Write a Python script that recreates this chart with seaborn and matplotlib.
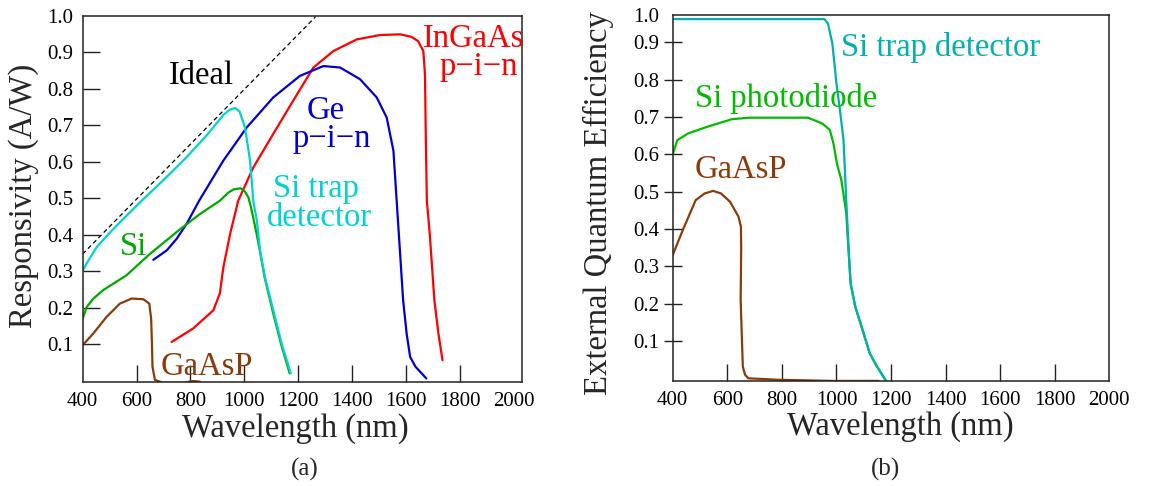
import matplotlib
matplotlib.use("Agg")
import matplotlib.pyplot as plt
import seaborn as sns
import pandas as pd

# ---------------- data: panel (a) responsivity (A/W) ----------------
ideal_lam = [400, 1264]
ideal_val = [0.347, 0.997]

si_trap_lam = [400, 421, 452, 500, 560, 619, 700, 780, 860, 922, 945, 965, 982, 1002, 1021, 1033,
               1046, 1058, 1076, 1107, 1138, 1172]
si_trap_val = [0.302, 0.329, 0.366, 0.405, 0.45, 0.493, 0.55, 0.608, 0.672, 0.728, 0.742, 0.747,
               0.738, 0.694, 0.603, 0.493, 0.439, 0.357, 0.284, 0.193, 0.102, 0.02]

si_lam = [400, 415, 440, 476, 563, 649, 755, 834, 909, 940, 960, 985, 1000, 1015, 1026, 1046,
          1060, 1076, 1105, 1136, 1168]
si_val = [0.17, 0.202, 0.225, 0.248, 0.289, 0.347, 0.411, 0.456, 0.493, 0.515, 0.524, 0.527,
          0.52, 0.502, 0.47, 0.40, 0.345, 0.28, 0.19, 0.10, 0.02]

ge_lam = [662, 712, 749, 786, 832, 922, 1009, 1107, 1206, 1293, 1355, 1429, 1491, 1528, 1553,
          1565, 1575, 1589, 1602, 1615, 1635, 1675]
ge_val = [0.331, 0.357, 0.389, 0.43, 0.493, 0.603, 0.694, 0.776, 0.835, 0.862, 0.858, 0.826,
          0.776, 0.721, 0.63, 0.493, 0.38, 0.22, 0.129, 0.065, 0.038, 0.006]

ingaas_lam = [730, 810, 885, 909, 922, 947, 977, 1033, 1107, 1181, 1256, 1330, 1417, 1503, 1578,
              1620, 1645, 1664, 1670, 1673, 1677, 1688, 1705, 1720, 1735]
ingaas_val = [0.106, 0.143, 0.193, 0.239, 0.311, 0.402, 0.493, 0.584, 0.676, 0.767, 0.858, 0.903,
              0.935, 0.947, 0.949, 0.942, 0.93, 0.903, 0.84, 0.676, 0.493, 0.40, 0.22, 0.129, 0.056]

gaasp_a_lam = [400, 439, 489, 538, 582, 625, 647, 654, 657, 659, 668, 699, 773, 810, 835]
gaasp_a_val = [0.097, 0.129, 0.175, 0.211, 0.225, 0.223, 0.211, 0.17, 0.10, 0.038, 0.002,
               -0.006, -0.006, -0.001, -0.003]

# ---------------- data: panel (b) external quantum efficiency ----------------
trap_b_lam = [400, 956, 969, 985, 1000, 1013, 1026, 1036, 1045, 1052, 1069, 1096, 1122, 1149, 1182]
trap_b_val = [0.962, 0.962, 0.95, 0.897, 0.79, 0.718, 0.638, 0.477, 0.343, 0.254, 0.192, 0.129,
              0.067, 0.031, -0.007]

sipd_b_lam = [400, 417, 457, 524, 617, 683, 896, 949, 976, 989, 1002, 1018, 1036, 1045, 1052,
              1069, 1096, 1122, 1149, 1182]
sipd_b_val = [0.6, 0.638, 0.656, 0.673, 0.694, 0.698, 0.698, 0.682, 0.665, 0.629, 0.575, 0.531,
              0.442, 0.335, 0.254, 0.192, 0.129, 0.067, 0.031, -0.007]

gaasp_b_lam = [400, 437, 484, 517, 548, 577, 610, 641, 650, 651, 649, 653, 657, 665, 677, 790,
               989, 1155]
gaasp_b_val = [0.33, 0.397, 0.477, 0.495, 0.502, 0.495, 0.473, 0.433, 0.406, 0.35, 0.21, 0.12,
               0.031, 0.01, 0.0, -0.004, -0.007, -0.007]

xticks = [400, 600, 800, 1000, 1200, 1400, 1600, 1800, 2000]
yticks_a = [0.1, 0.2, 0.3, 0.4, 0.5, 0.6, 0.7, 0.8, 0.9, 1.0]
yticks_b = [0.1, 0.2, 0.3, 0.4, 0.5, 0.6, 0.7, 0.8, 0.9]

C_CYAN = "#00d2d2"
C_TEAL = "#00b0b0"
C_GREEN_A = "#00a800"
C_GREEN_B = "#00bb00"
C_BLUE = "#0000d2"
C_RED = "#ff0000"
C_BROWN = "#8b3a0a"

sns.set_style("ticks")
plt.rcParams["font.family"] = ["Liberation Serif", "DejaVu Serif"]
plt.rcParams["mathtext.fontset"] = "stix"

W, H = 1149, 486
fig = plt.figure(figsize=(W / 100, H / 100), dpi=100)

def px_axes(left, top, right, bottom):
    return fig.add_axes([left / W, 1 - bottom / H, (right - left) / W, (bottom - top) / H])

axa = px_axes(82.7, 15.7, 521.7, 382.3)
axb = px_axes(672.7, 15.0, 1109.3, 381.3)

def long_df(series):
    rows = []
    for name, lam, val in series:
        for i, (l, v) in enumerate(zip(lam, val)):
            rows.append({"series": name, "lam": l, "val": v, "order": i})
    return pd.DataFrame(rows)

lw = 1.6
# panel (a)
dfa = long_df([
    ("GaAsP", gaasp_a_lam, gaasp_a_val),
    ("InGaAs", ingaas_lam, ingaas_val),
    ("Ge", ge_lam, ge_val),
    ("Si", si_lam, si_val),
    ("Si trap", si_trap_lam, si_trap_val),
])
pal_a = {"GaAsP": C_BROWN, "InGaAs": C_RED, "Ge": C_BLUE, "Si": C_GREEN_A, "Si trap": C_CYAN}
sns.lineplot(data=dfa, x="lam", y="val", hue="series", palette=pal_a, sort=False,
             estimator=None, legend=False, ax=axa, linewidth=lw)
dfi = pd.DataFrame({"lam": ideal_lam, "val": ideal_val})
sns.lineplot(data=dfi, x="lam", y="val", color="black", sort=False, estimator=None,
             legend=False, ax=axa, linewidth=0.9, linestyle=(0, (3.5, 2.5)))

# panel (b)
dfb = long_df([
    ("GaAsP", gaasp_b_lam, gaasp_b_val),
    ("Si photodiode", sipd_b_lam, sipd_b_val),
    ("Si trap detector", trap_b_lam, trap_b_val),
])
pal_b = {"GaAsP": C_BROWN, "Si photodiode": C_GREEN_B, "Si trap detector": C_TEAL}
sns.lineplot(data=dfb, x="lam", y="val", hue="series", palette=pal_b, sort=False,
             estimator=None, legend=False, ax=axb, linewidth=lw)

TICK_FS = 15
LAB_FS = 23.5
ANN_FS = 23.5

# axes (a)
axa.set_xlim(400, 2029)
axa.set_ylim(-0.0046, 0.997)
axa.set_xticks(xticks)
axa.set_xticklabels([str(t) for t in xticks])
axa.set_yticks(yticks_a)
axa.set_yticklabels([f"{t:.1f}" for t in yticks_a])
axa.tick_params(axis="both", direction="in", length=12, width=1.0, labelsize=TICK_FS, pad=7,
                colors="#222222", labelcolor="black")
axa.xaxis.get_major_ticks()[-1].tick1line.set_visible(False)
axa.yaxis.get_major_ticks()[-1].tick1line.set_visible(False)
axa.set_xlabel("Wavelength (nm)", fontsize=LAB_FS, va="baseline")
axa.xaxis.set_label_coords(0.4836, -0.148)
axa.set_ylabel("Responsivity (A/W)", fontsize=LAB_FS, va="baseline", rotation_mode="anchor")
axa.yaxis.set_label_coords(-0.1155, 0.508)

# axes (b)
axb.set_xlim(400, 2000)
axb.set_ylim(-0.008, 0.973)
axb.set_xticks(xticks)
axb.set_xticklabels([str(t) for t in xticks])
axb.set_yticks(yticks_b + [0.973])
axb.set_yticklabels([f"{t:.1f}" for t in yticks_b] + ["1.0"])
axb.tick_params(axis="x", direction="in", length=12, width=1.0, labelsize=TICK_FS, pad=7,
                colors="#222222", labelcolor="black")
axb.tick_params(axis="y", direction="inout", length=13, width=1.0, labelsize=TICK_FS, pad=3,
                colors="#222222", labelcolor="black")
axb.yaxis.get_major_ticks()[-1].tick1line.set_visible(False)
axb.xaxis.get_major_ticks()[0].tick1line.set_visible(False)
axb.xaxis.get_major_ticks()[-1].tick1line.set_visible(False)
axb.set_xlabel("Wavelength (nm)", fontsize=LAB_FS, va="baseline")
axb.xaxis.set_label_coords(0.5206, -0.1466)
axb.set_ylabel("External Quantum Efficiency", fontsize=LAB_FS, va="baseline",
               rotation_mode="anchor")
axb.yaxis.set_label_coords(-0.150, 0.487)

for ax in (axa, axb):
    for s in ax.spines.values():
        s.set_visible(True)
        s.set_linewidth(1.1)
        s.set_color("#222222")
    ax.xaxis.get_major_ticks()[0].tick1line.set_visible(False)
    ax.yaxis.get_major_ticks()[0].tick1line.set_visible(True)

# annotations (a)
def ann(ax, x, y, s, c, ha="center"):
    ax.text(x, y, s, color=c, fontsize=ANN_FS, ha=ha, va="baseline", clip_on=False)

PIN = "p\u2212i\u2212n"
ann(axa, 839, 0.812, "Ideal", "black")
ann(axa, 1852, 0.915, "InGaAs", C_RED)
ann(axa, 1870, 0.838, PIN, C_RED)
ann(axa, 1303, 0.717, "Ge", C_BLUE)
ann(axa, 1325, 0.639, PIN, C_BLUE)
ann(axa, 1266, 0.504, "Si trap", C_CYAN)
ann(axa, 1277, 0.425, "detector", C_CYAN)
ann(axa, 587, 0.343, "Si", C_GREEN_A)
ann(axa, 861, 0.015, "GaAsP", C_BROWN)

# annotations (b)
ann(axb, 1017, 0.863, "Si trap detector", C_TEAL, ha="left")
ann(axb, 482, 0.727, "Si photodiode", C_GREEN_B, ha="left")
ann(axb, 482, 0.537, "GaAsP", C_BROWN, ha="left")

# captions
fig.text(305 / W, 1 - 476 / H, "(a)", fontsize=18, ha="center", va="baseline")
fig.text(886 / W, 1 - 476 / H, "(b)", fontsize=18, ha="center", va="baseline")

fig.savefig("out.png", dpi=100)
